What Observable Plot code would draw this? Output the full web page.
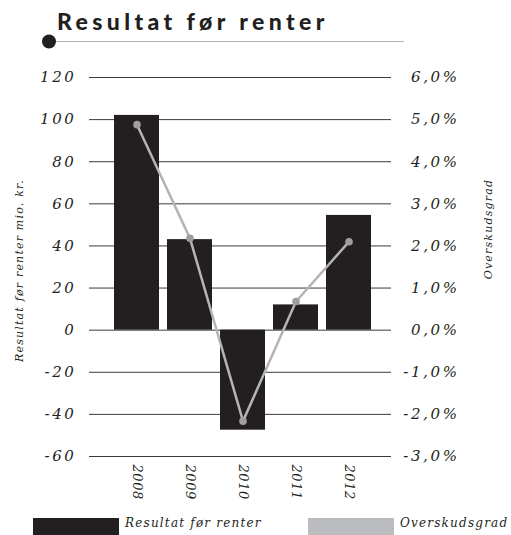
<!DOCTYPE html>
<html>
<head>
<meta charset="utf-8">
<script src="https://cdn.jsdelivr.net/npm/d3@7"></script>
<script src="https://cdn.jsdelivr.net/npm/@observablehq/plot@0.6"></script>
<style>
  html, body { margin: 0; padding: 0; background: #fff; }
  #wrap { position: relative; width: 511px; height: 535px; overflow: hidden; }
  #title { position: absolute; left: 57px; top: 10px; font-family: Lato, sans-serif; font-weight: 900; font-size: 23px; letter-spacing: 4.4px; color: #231f20; white-space: nowrap; line-height: 1; }
  #deco { position: absolute; left: 0; top: 0; }
  #chart { position: absolute; left: 0; top: 60px; }
  #chart svg text { font-family: "DejaVu Serif", serif !important; font-style: italic !important; fill: #231f20; }
  #chart g[aria-label="y-axis tick label"] text { font-size: 15px !important; letter-spacing: 2.6px; }
  #chart g[aria-label="x-axis tick label"] text { font-size: 13px !important; letter-spacing: 0.6px; }
  #chart g[aria-label="text"] text { font-size: 11px !important; letter-spacing: 1.2px; }
  .sw { position: absolute; top: 518px; height: 17px; width: 86px; }
  .lt { position: absolute; top: 516px; font-family: "DejaVu Serif", serif; font-style: italic; font-size: 12px; letter-spacing: 1.2px; color: #231f20; white-space: nowrap; }
</style>
</head>
<body>
<div id="wrap">
  <div id="title"></div>
  <svg id="deco" width="511" height="60">
    <line x1="49" y1="41.5" x2="404" y2="41.5" stroke="#b5b5b5" stroke-width="1"></line>
    <circle cx="49" cy="41.5" r="7" fill="#231f20"></circle>
  </svg>
  <div id="chart"></div>
  <div class="sw" style="left:33px; background:#231f20"></div>
  <div class="lt" id="lt1" style="left:125px"></div>
  <div class="sw" style="left:308px; background:#bbbcbf"></div>
  <div class="lt" id="lt2" style="left:400px"></div>
</div>
<script>
const title = "Resultat før renter";
const years = ["2008", "2009", "2010", "2011", "2012"];
const result = [102, 43, -47.5, 12, 54.5];          // mio. kr.
const margin = [4.88, 2.18, -2.16, 0.68, 2.1];       // Overskudsgrad, %
const leftTicks = [-60, -40, -20, 0, 20, 40, 60, 80, 100, 120];
const rightTicks = [-3, -2, -1, 0, 1, 2, 3, 4, 5, 6];
const leftLabel = "Resultat før renter mio. kr.";
const rightLabel = "Overskudsgrad";
const legendBar = "Resultat før renter";
const legendLine = "Overskudsgrad";

document.getElementById("title").textContent = title;
document.getElementById("lt1").textContent = legendBar;
document.getElementById("lt2").textContent = legendLine;

const ratio = 20; // 1% on right axis equals 20 on left axis
const data = years.map((y, i) => ({year: y, result: result[i], margin: margin[i]}));

const chart = Plot.plot({
  width: 511,
  height: 445,
  marginTop: 17,
  marginLeft: 89,
  marginRight: 120,
  marginBottom: 49,
  style: {background: "transparent", color: "#231f20"},
  x: {domain: years, paddingInner: 0.15, paddingOuter: 0.42, align: 0.55},
  y: {domain: [-60, 120]},
  marks: [
    Plot.gridY(leftTicks, {stroke: "#3a3a3a", strokeOpacity: 1, strokeWidth: 1}),
    Plot.barY(data, {x: "year", y: "result", fill: "#231f20"}),
    Plot.line(data, {x: "year", y: d => d.margin * ratio, stroke: "#b4b4b4", strokeWidth: 2.5}),
    Plot.dot(data, {x: "year", y: d => d.margin * ratio, r: 3.8, fill: "#9e9e9e"}),
    Plot.axisY(leftTicks, {anchor: "left", tickSize: 0, tickPadding: 13, tickFormat: d => String(d), label: null}),
    Plot.axisY(rightTicks.map(d => d * ratio), {anchor: "right", tickSize: 0, tickPadding: 0, textAnchor: "end", dx: 68,
      tickFormat: d => (d / ratio).toFixed(1).replace(".", ",") + "%", label: null}),
    Plot.axisX(years, {anchor: "bottom", tickSize: 0, tickPadding: 8, tickRotate: 90, label: null}),
    Plot.text([leftLabel], {frameAnchor: "left", textAnchor: "middle", dx: -70, dy: 3.5, rotate: -90}),
    Plot.text([rightLabel], {frameAnchor: "right", textAnchor: "middle", dx: 97, dy: -38, rotate: -90})
  ]
});
document.getElementById("chart").appendChild(chart);
</script>
</body>
</html>
